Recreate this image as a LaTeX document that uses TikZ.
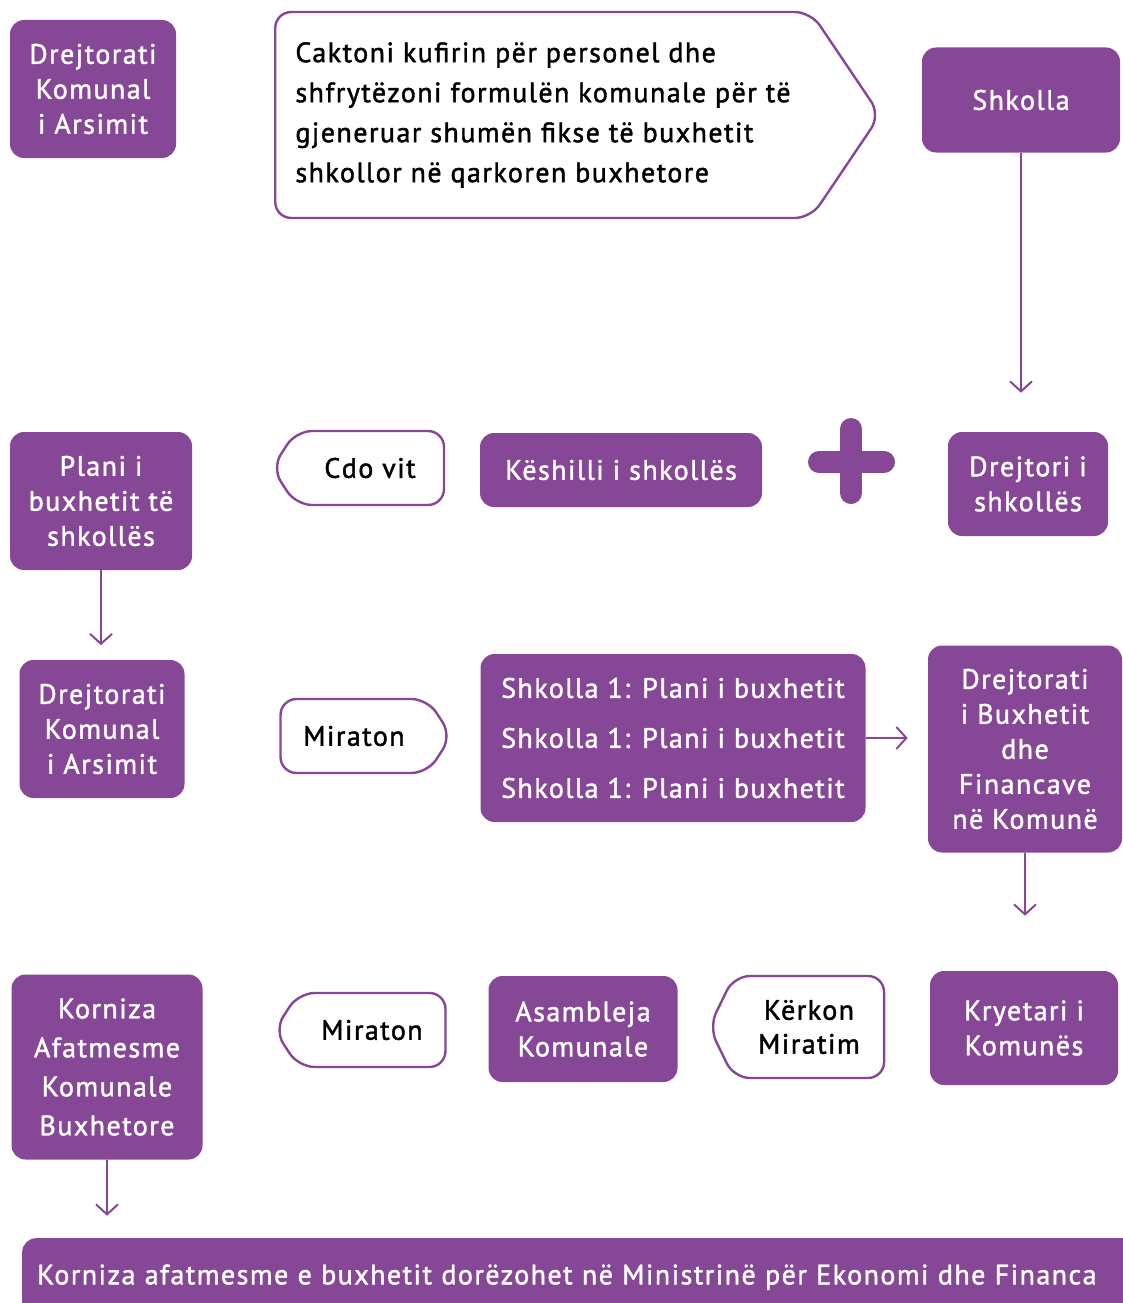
\documentclass[tikz,border=0pt]{standalone}
\usepackage{fontspec}
\setmainfont{PT Sans}[LetterSpace=5.2, FakeBold=1.5]
\usetikzlibrary{arrows.meta, shapes.symbols}
\definecolor{lila}{RGB}{134,72,150}

\begin{document}
\begin{tikzpicture}[x=1pt, y=-1pt,
    box/.style={fill=lila, rounded corners=14pt, text=white, align=center, inner sep=0pt, font=\fontsize{28}{35}\selectfont},
    tag/.style={shape=signal, draw=lila, line width=2.4pt, fill=white, rounded corners=16pt, inner sep=0pt, align=center, font=\fontsize{28}{34}\selectfont},
    arrow/.style={-{Straight Barb[length=10pt, width=22pt]}, draw=lila, line width=2pt}
]
\useasboundingbox (0,0) rectangle (1123,1303);

% top row
\node[box, minimum width=166pt, minimum height=138pt] (dka) at (93,89) {Drejtorati\\Komunal\\i Arsimit};
\node[tag, signal to=east, signal pointer angle=112, minimum width=605pt, minimum height=206pt, align=left, font=\fontsize{28}{40}\selectfont] (kufiri) at (543,115) {Caktoni kufirin për personel dhe\\shfrytëzoni formulën komunale për të\\gjeneruar shumën fikse të buxhetit\\shkollor në qarkoren buxhetore};
\node[box, minimum width=198pt, minimum height=105pt] (shkolla) at (1021,100) {Shkolla};

% second row
\node[box, minimum width=182pt, minimum height=138pt] (plani) at (101,501) {Plani i\\buxhetit të\\shkollës};
\node[tag, signal to=west, signal pointer angle=114, minimum width=172pt, minimum height=74pt] (cdovit) at (370,468) {Cdo vit};
\node[box, minimum width=282pt, minimum height=74pt] (keshilli) at (621,470) {Këshilli i shkollës};
\node[box, minimum width=160pt, minimum height=104pt] (drejtori) at (1028,484) {Drejtori i\\shkollës};
\draw[lila, line width=22pt, line cap=round] (819,462) -- (884,462) (851,429) -- (851,493);

% third row
\node[box, minimum width=165pt, minimum height=138pt] (dka2) at (102,729) {Drejtorati\\Komunal\\i Arsimit};
\node[tag, signal to=east, signal pointer angle=114, minimum width=171pt, minimum height=74pt] (miraton) at (354,736) {Miraton};
\node[box, minimum width=385pt, minimum height=168pt, font=\fontsize{28}{50}\selectfont] (planet) at (673,738) {Shkolla 1: Plani i buxhetit\\Shkolla 1: Plani i buxhetit\\Shkolla 1: Plani i buxhetit};
\node[box, minimum width=194pt, minimum height=207pt] (dbf) at (1025,749) {Drejtorati\\i Buxhetit\\dhe\\Financave\\në Komunë};

% fourth row
\node[box, minimum width=191pt, minimum height=185pt, font=\fontsize{28}{39}\selectfont] (korniza) at (107,1067) {Korniza\\Afatmesme\\Komunale\\Buxhetore};
\node[tag, signal to=west, signal pointer angle=114, minimum width=171pt, minimum height=74pt] (miraton2) at (372,1030) {Miraton};
\node[box, minimum width=189pt, minimum height=106pt] (asambleja) at (583,1029) {Asambleja\\Komunale};
\node[tag, signal to=west, signal pointer angle=128, minimum width=175pt, minimum height=102pt] (kerkon) at (809,1027) {Kërkon\\Miratim};
\node[box, minimum width=188pt, minimum height=114pt] (kryetari) at (1024,1028) {Kryetari i\\Komunës};

% bottom bar
\node[box, anchor=north west, minimum width=1130pt, minimum height=78pt, text width=1100pt, align=left] (mef) at (22,1238) {Korniza afatmesme e buxhetit dorëzohet në Ministrinë për Ekonomi dhe Financa};

% connectors
\draw[arrow] (shkolla.south) -- ++(0,240);
\draw[arrow] (plani.south) -- ++(0,75);
\draw[arrow] (planet.east) -- ++(42,0);
\draw[arrow] (dbf.south) -- ++(0,63);
\draw[arrow] (korniza.south) -- ++(0,56);

\end{tikzpicture}
\end{document}
